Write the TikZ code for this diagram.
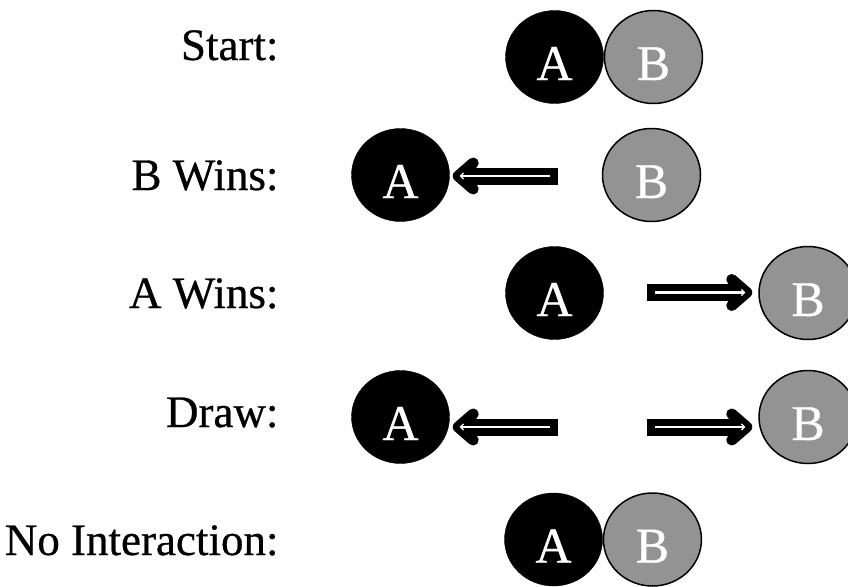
\documentclass[tikz,border=0pt]{standalone}
\usepackage{fontspec}
\setmainfont[FakeBold=0.6]{Liberation Serif}
\usetikzlibrary{positioning, shapes.geometric, arrows.meta}
\definecolor{bgrey}{HTML}{939393}
\tikzset{player/.style={ellipse,minimum width=98pt,minimum height=93pt,inner sep=0pt,text=white,font=\fontsize{50}{60}\selectfont,text height=46pt,text depth=0pt}}
\tikzset{a node/.style={player,fill=black,draw=black}}
\tikzset{b node/.style={player,fill=bgrey,draw=black,line width=1.5pt}}
\tikzset{row label/.style={anchor=base east,font=\fontsize{45}{54}\selectfont}}
\tikzset{push/.style={line width=17pt,line join=round,-{Straight Barb[length=15pt,width=26pt,line width=11pt,round]},shorten >=3pt}}
\tikzset{push inner/.style={white,line width=2.5pt,-{Straight Barb[length=3pt,width=6pt,line width=1.2pt]},shorten >=10pt,shorten <=8pt}}

\begin{document}
\begin{tikzpicture}[x=1pt,y=-1pt]
            \useasboundingbox (0,0) rectangle (848,586);

            \node[row label] (start) at (282,60) {Start:};
            \node[a node] (A1) at (554.5,57) {A};
            \node[b node] (B1) [right = 0pt of A1] {B};

            \node[row label] (bwins) at (282,190) {B Wins:};
            \node[a node] (A2) at (400.5,175) {A};
            \node[b node] (B2) at (651.5,175) {B};
            \coordinate (t2) at (558,176);

            \node[row label] (awins) at (282,308) {A Wins:};
            \node[a node] (A3) at (554.5,293) {A};
            \node[b node] (B3) at (808,293) {B};
            \coordinate (t3) at (647,292.5);

            \node[row label] (draw) at (282,427) {Draw:};
            \node[a node] (A4) at (400.5,417) {A};
            \node[b node] (B4) at (808,417) {B};
            \coordinate (t4a) at (558,427);
            \coordinate (t4b) at (647,427);

            \node[row label] (none) at (282,555) {No Interaction:};
            \node[a node] (A5) at (553.5,539.5) {A};
            \node[b node] (B5) [right = 0pt of A5] {B};

            \draw[push] (t2) -- (t2 -| A2.east);
            \draw[push inner] (t2) -- (t2 -| A2.east);
            \draw[push, shorten >=6pt] (t3) -- (t3 -| B3.west);
            \draw[push inner, shorten >=13pt] (t3) -- (t3 -| B3.west);
            \draw[push] (t4a) -- (t4a -| A4.east);
            \draw[push inner] (t4a) -- (t4a -| A4.east);
            \draw[push, shorten >=6pt] (t4b) -- (t4b -| B4.west);
            \draw[push inner, shorten >=13pt] (t4b) -- (t4b -| B4.west);
        \end{tikzpicture}
\end{document}
